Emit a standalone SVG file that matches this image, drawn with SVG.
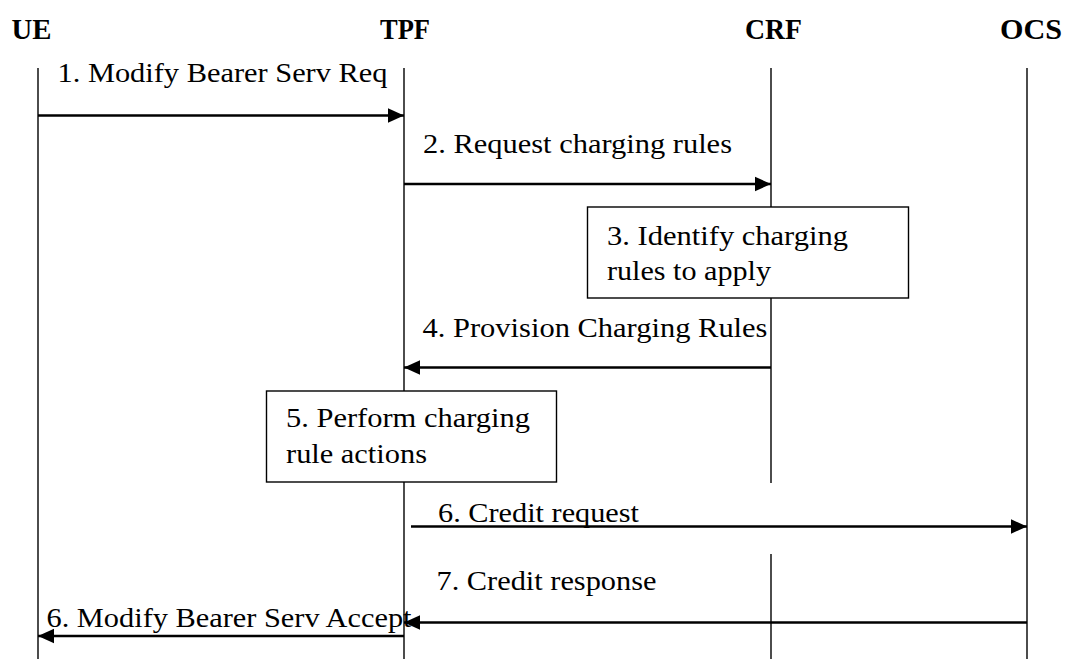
<svg xmlns="http://www.w3.org/2000/svg" width="1067" height="659" viewBox="0 0 1067 659">
<style>
.hdr{font-family:"Liberation Serif","Times New Roman",serif;font-weight:bold;font-size:29px;fill:#000}
.lbl{font-family:"Liberation Serif","Times New Roman",serif;font-size:28px;fill:#000}
.life{stroke:#000;stroke-width:1.4;fill:none}
.msg{stroke:#000;stroke-width:2.4;fill:none}
.box{stroke:#000;stroke-width:1.4;fill:#fff}
</style>
<defs>
<marker id="ah" markerUnits="userSpaceOnUse" markerWidth="16" markerHeight="16" viewBox="0 0 16 16" refX="16" refY="8" orient="auto">
<path d="M0,0.8 L16,8 L0,15.2 Z" fill="#000"/>
</marker>
</defs>
<rect width="1067" height="659" fill="#fff"/>
<g id="UE">
<text class="hdr" x="11.5" y="39" textLength="40" lengthAdjust="spacingAndGlyphs">UE</text>
<line class="life" x1="38" y1="68" x2="38" y2="659"/>
</g>
<g id="TPF">
<text class="hdr" x="380" y="39" textLength="50" lengthAdjust="spacingAndGlyphs">TPF</text>
<line class="life" x1="404" y1="68" x2="404" y2="659"/>
</g>
<g id="CRF">
<text class="hdr" x="745" y="39" textLength="57" lengthAdjust="spacingAndGlyphs">CRF</text>
<line class="life" x1="771" y1="68" x2="771" y2="483"/>
<line class="life" x1="771" y1="554" x2="771" y2="659"/>
</g>
<g id="OCS">
<text class="hdr" x="1000" y="39" textLength="62" lengthAdjust="spacingAndGlyphs">OCS</text>
<line class="life" x1="1027" y1="68" x2="1027" y2="659"/>
</g>
<g id="step3">
<rect class="box" x="587.5" y="207" width="321" height="91"/>
<text class="lbl" x="607" y="245" textLength="241" lengthAdjust="spacingAndGlyphs">3. Identify charging</text>
<text class="lbl" x="607" y="280" textLength="164" lengthAdjust="spacingAndGlyphs">rules to apply</text>
</g>
<g id="step5">
<rect class="box" x="266.5" y="391" width="290" height="91"/>
<text class="lbl" x="286" y="427" textLength="244" lengthAdjust="spacingAndGlyphs">5. Perform charging</text>
<text class="lbl" x="286" y="463" textLength="141" lengthAdjust="spacingAndGlyphs">rule actions</text>
</g>
<g id="connectors">
<line class="msg" x1="38" y1="115.5" x2="404" y2="115.5" marker-end="url(#ah)"/>
<text class="lbl" x="57.5" y="82" textLength="330" lengthAdjust="spacingAndGlyphs">1. Modify Bearer Serv Req</text>
<line class="msg" x1="404" y1="184" x2="771" y2="184" marker-end="url(#ah)"/>
<text class="lbl" x="423" y="153" textLength="309" lengthAdjust="spacingAndGlyphs">2. Request charging rules</text>
<line class="msg" x1="771" y1="367.5" x2="404" y2="367.5" marker-end="url(#ah)"/>
<text class="lbl" x="422.5" y="337" textLength="345" lengthAdjust="spacingAndGlyphs">4. Provision Charging Rules</text>
<line class="msg" x1="411" y1="526.5" x2="1027" y2="526.5" marker-end="url(#ah)"/>
<text class="lbl" x="438" y="522" textLength="201" lengthAdjust="spacingAndGlyphs">6. Credit request</text>
<line class="msg" x1="1027" y1="622.5" x2="404" y2="622.5" marker-end="url(#ah)"/>
<text class="lbl" x="436.5" y="590" textLength="220" lengthAdjust="spacingAndGlyphs">7. Credit response</text>
<line class="msg" x1="404" y1="636" x2="38" y2="636" marker-end="url(#ah)"/>
<text class="lbl" x="46.5" y="627" textLength="365" lengthAdjust="spacingAndGlyphs">6. Modify Bearer Serv Accept</text>
</g>
</svg>
